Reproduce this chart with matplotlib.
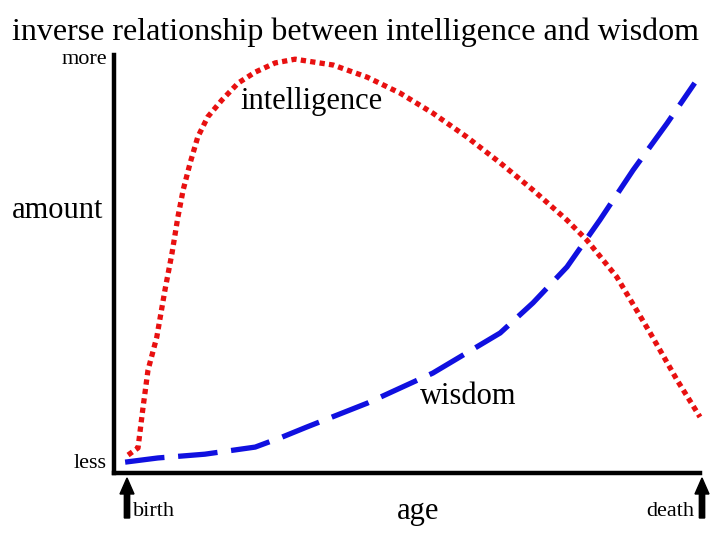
import matplotlib
matplotlib.use('Agg')
import matplotlib.pyplot as plt
import numpy as np

# age (0 = birth, 100 = death) vs amount (0 = less, 100 = more)
intel_x = [2.4, 4.1, 4.9, 5.8, 7.3, 8.7, 9.9, 10.9, 11.8, 13.0, 14.3, 16.0, 18.4, 21.2, 24.1,
           27.5, 30.9, 37.4, 43.2, 48.8, 54.4, 60.2, 65.9, 71.5, 77.3, 80.7, 85.8, 91.5, 96.1, 100.0]
intel_y = [4.3, 6.0, 15.1, 24.6, 32.5, 43.8, 52.6, 61.2, 67.7, 74.2, 80.4, 85.2, 89.2, 93.3, 95.9,
           98.1, 99.0, 97.6, 94.7, 90.9, 86.1, 80.4, 74.2, 67.7, 60.5, 55.7, 46.9, 33.5, 22.2, 13.4]
wis_x = [1.9, 7.5, 15.5, 24.1, 28.7, 32.9, 43.2, 54.4, 65.9, 71.5, 77.3, 82.9, 88.6, 94.4, 99.1]
wis_y = [2.6, 3.6, 4.5, 6.2, 8.6, 11.0, 16.7, 23.9, 33.5, 40.7, 49.3, 60.5, 72.5, 83.7, 93.3]

plt.rcParams['font.family'] = ['Liberation Serif', 'DejaVu Serif']

W, H = 720, 540
fig = plt.figure(figsize=(W / 100, H / 100), dpi=100)
# axes box in pixels: left 114, right 700, top 55, bottom 473
ax = fig.add_axes([114 / W, 1 - 473 / H, (700 - 114) / W, (473 - 55) / H])
ax.set_xlim(0, 100)
ax.set_ylim(0, 100)

ax.plot(intel_x, intel_y, color='#e81010', lw=3.8, linestyle=(0, (1, 0.8)),
        dash_capstyle='butt', solid_joinstyle='round', clip_on=False)
ax.plot(wis_x, wis_y, color='#1010e0', lw=3.8, linestyle=(0, (7.5, 2.6)),
        dash_capstyle='butt', clip_on=False)

for s in ['top', 'right']:
    ax.spines[s].set_visible(False)
for s in ['left', 'bottom']:
    ax.spines[s].set_linewidth(3.2)
ax.set_xticks([])
ax.set_yticks([])
ax.patch.set_alpha(0)


def fx(px):
    return px / W


def fy(py):
    return 1 - py / H


fig.text(fx(355), fy(32), 'inverse relationship between intelligence and wisdom',
         ha='center', va='center', fontsize=23)
fig.text(fx(107), fy(60), 'more', ha='right', va='center', fontsize=16)
fig.text(fx(107), fy(464), 'less', ha='right', va='center', fontsize=16)
fig.text(fx(103), fy(210), 'amount', ha='right', va='center', fontsize=22)
fig.text(fx(240), fy(102), 'intelligence', ha='left', va='center', fontsize=22)
fig.text(fx(420), fy(396), 'wisdom', ha='left', va='center', fontsize=22)
fig.text(fx(418), fy(511), 'age', ha='center', va='center', fontsize=22)
fig.text(fx(133), fy(512), 'birth', ha='left', va='center', fontsize=16)
fig.text(fx(694), fy(512), 'death', ha='right', va='center', fontsize=16)

for x in [127, 702]:
    fig.patches.append(matplotlib.patches.FancyArrow(
        fx(x), fy(518), 0, fy(478) - fy(518), width=4 / H,
        head_width=14 / W, head_length=16 / H, length_includes_head=True,
        color='black', transform=fig.transFigure, figure=fig))

fig.savefig('out.png', dpi=100)
